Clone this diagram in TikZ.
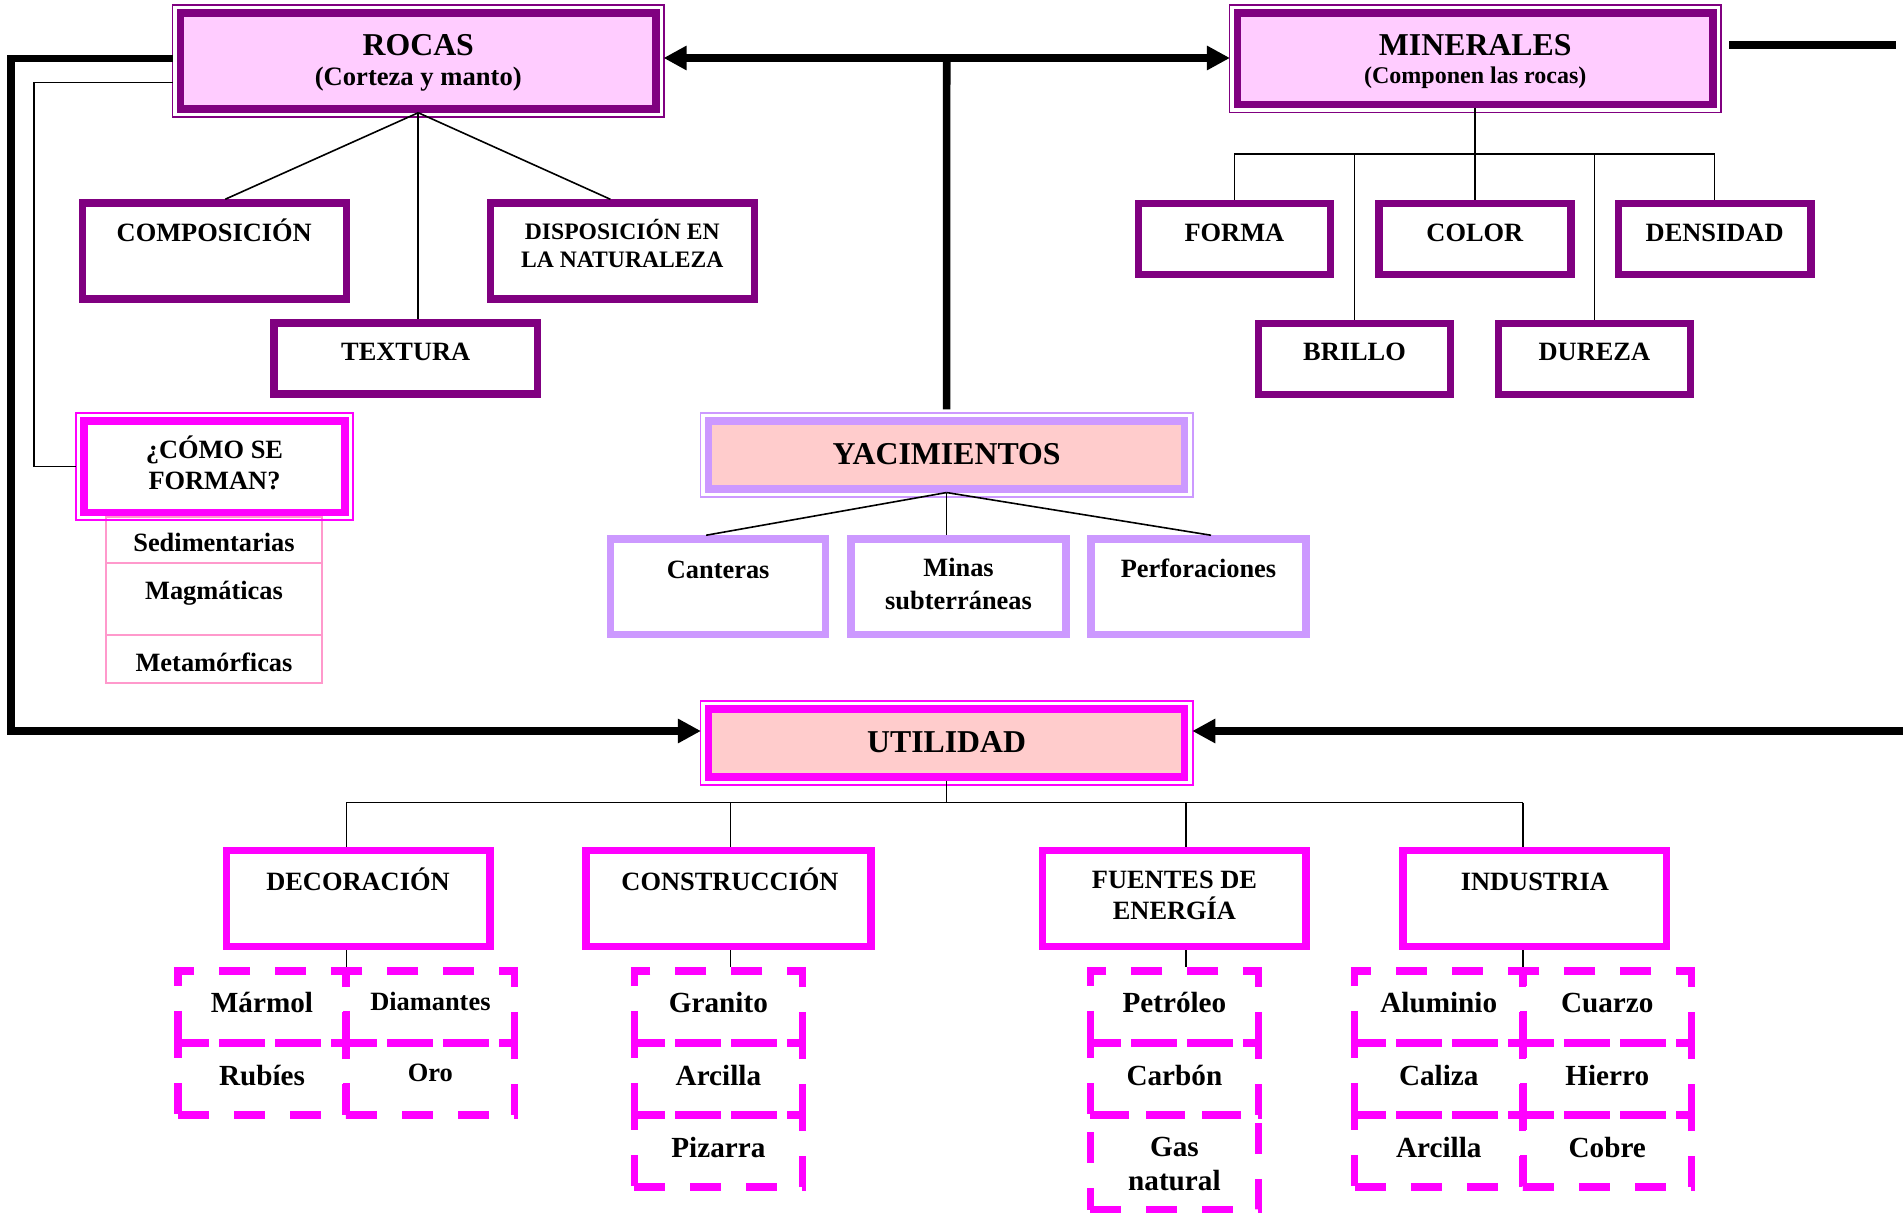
\documentclass[tikz,border=0pt]{standalone}
\usepackage{fontspec}
\setmainfont{Liberation Serif}
\usetikzlibrary{arrows.meta}

\definecolor{morado}{HTML}{800080}
\definecolor{rosa}{HTML}{FFCCFF}
\definecolor{fucsia}{HTML}{FF00FF}
\definecolor{lila}{HTML}{CC99FF}
\definecolor{salmonclaro}{HTML}{FFCCCC}
\definecolor{rosado}{HTML}{FF99CC}

\begin{document}
\begin{tikzpicture}[x=0.5pt,y=0.5pt,yscale=-1,
  >={Triangle[length=11.5pt,width=11.5pt]},
  caja/.style={rectangle,draw,line width=3.75pt,inner sep=0pt,fill=white},
  celda/.style={rectangle,draw=fucsia,line width=3.6pt,dash pattern=on 15.5pt off 12.5pt,minimum width=84pt,minimum height=36pt,inner sep=0pt},
  tabla/.style={rectangle,draw=rosado,line width=1pt,minimum width=108.3pt,inner sep=0pt},
  gruesa/.style={line width=3.8pt},
  fina/.style={line width=0.8pt},
  marco/.style={line width=0.8pt},
  titulo/.style={anchor=base,inner sep=0pt,font=\bfseries\fontsize{15.9}{19}\selectfont},
  subtitulo/.style={anchor=base,inner sep=0pt,font=\bfseries\fontsize{13.3}{16}\selectfont},
  etiqueta/.style={anchor=base,inner sep=0pt,align=center,font=\bfseries\fontsize{13.2}{15.5}\selectfont},
  elemento/.style={anchor=base,inner sep=0pt,align=center,font=\bfseries\fontsize{14.6}{17}\selectfont}
]
\path[use as bounding box,fill=white] (0,0) rectangle (1903,1213);

%Shape: Rectangle ROCAS
\draw[marco,morado] (172.5,5) rectangle (664,117);
\node[caja,draw=morado,fill=rosa,minimum width=237.75pt,minimum height=48pt] (rocas) at (418.25,61) {};
%Shape: Rectangle MINERALES
\draw[marco,morado] (1229.5,5) rectangle (1721,112.7);
\node[caja,draw=morado,fill=rosa,minimum width=237.75pt,minimum height=45.85pt] (minerales) at (1475.25,58.85) {};

%Shape: Rectangle
\node[caja,draw=morado,minimum width=132pt,minimum height=48pt] (compo) at (214.25,251) {};
\node[caja,draw=morado,minimum width=132pt,minimum height=48pt] (dispo) at (622.3,251) {};
\node[caja,draw=morado,minimum width=131.75pt,minimum height=35.5pt] (textura) at (405.75,358.5) {};

%Shape: Rectangle
\node[caja,draw=morado,minimum width=96.1pt,minimum height=35.5pt] (forma) at (1234.4,238.8) {};
\node[caja,draw=morado,minimum width=96.1pt,minimum height=35.5pt] (color) at (1474.85,238.8) {};
\node[caja,draw=morado,minimum width=96.1pt,minimum height=35.5pt] (densidad) at (1714.65,238.8) {};
\node[caja,draw=morado,minimum width=96.1pt,minimum height=35.5pt] (brillo) at (1354.5,358.8) {};
\node[caja,draw=morado,minimum width=96.1pt,minimum height=35.5pt] (dureza) at (1594.4,358.8) {};

%Shape: Table
\node[tabla,minimum height=22.85pt] (sedi) at (214,539.85) {};
\node[tabla,minimum height=36.15pt] (magma) at (214,598.85) {};
\node[tabla,minimum height=24.15pt] (meta) at (214,659.15) {};

%Shape: Rectangle COMO
\draw[marco,fucsia] (76,413) rectangle (352.9,520.3);
\node[caja,draw=fucsia,minimum width=130.45pt,minimum height=45.65pt] (como) at (214.5,466.7) {};

%Shape: Rectangle YACIMIENTOS
\draw[marco,lila] (700.5,413.2) rectangle (1192.7,496.8);
\node[caja,draw=lila,fill=salmonclaro,minimum width=238.1pt,minimum height=33.8pt] (yac) at (946.6,455) {};
\node[caja,draw=lila,minimum width=107.45pt,minimum height=47.65pt] (canteras) at (718.15,586.65) {};
\node[caja,draw=lila,minimum width=107.45pt,minimum height=47.65pt] (minas) at (958.55,586.65) {};
\node[caja,draw=lila,minimum width=107.45pt,minimum height=47.65pt] (perf) at (1198.5,586.65) {};

%Shape: Rectangle UTILIDAD
\draw[marco,fucsia] (700.5,700.9) rectangle (1192.7,784.9);
\node[caja,draw=fucsia,fill=salmonclaro,minimum width=238.1pt,minimum height=34pt] (util) at (946.6,742.9) {};
\node[caja,draw=fucsia,minimum width=131.75pt,minimum height=48pt] (deco) at (358,898.7) {};
\node[caja,draw=fucsia,minimum width=142.5pt,minimum height=48pt] (constr) at (728.5,898.7) {};
\node[caja,draw=fucsia,minimum width=131.75pt,minimum height=48pt] (fuentes) at (1174.45,898.7) {};
\node[caja,draw=fucsia,minimum width=131.75pt,minimum height=48pt] (industria) at (1534.9,898.7) {};

%Shape: Dashed cells
\node[celda] (marmol) at (262,1007) {};
\node[celda] (diamantes) at (430.4,1007) {};
\node[celda] (rubies) at (262,1079) {};
\node[celda] (oro) at (430.4,1079) {};
\node[celda] (granito) at (718.4,1007) {};
\node[celda] (arcillac) at (718.4,1079) {};
\node[celda] (pizarra) at (718.4,1151) {};
\node[celda] (petroleo) at (1174.4,1007) {};
\node[celda] (carbon) at (1174.4,1079) {};
\node[celda,minimum height=47.35pt] (gas) at (1174.4,1162.35) {};
\node[celda] (aluminio) at (1438.75,1007) {};
\node[celda] (cuarzo) at (1607.25,1007) {};
\node[celda] (caliza) at (1438.75,1079) {};
\node[celda] (hierro) at (1607.25,1079) {};
\node[celda] (arcillai) at (1438.75,1151) {};
\node[celda] (cobre) at (1607.25,1151) {};

\coordinate (cruce) at (946.7,58);
\coordinate (izq-arriba) at (10.9,58.7);
\coordinate (izq-abajo) at (10.9,731);
\coordinate (der-arriba) at (1906.5,60);
\coordinate (der-abajo) at (1906.5,731);
\coordinate (tope-a) at (1729,45.3);
\coordinate (tope-b) at (1896,45.3);
\coordinate (fa) at (34,82.7);
\coordinate (fb) at (34,466.7);
\coordinate (mbar) at (1475.25,154);
\coordinate (ubar) at (946.6,802.7);
\coordinate (d-deco) at (346.4,802.7);
\coordinate (d-constr) at (730.4,802.7);
\coordinate (d-fuentes) at (1186.25,802.7);
\coordinate (d-ind) at (1522.9,802.7);

%Straight Lines
\draw[gruesa,->,shorten <=1.9pt,shorten >=1.9pt] (rocas.west |- izq-arriba) -- (izq-arriba) -- (izq-abajo) -- (util.west |- izq-abajo);
\draw[gruesa,<->,shorten <=1.9pt,shorten >=1.9pt] (rocas.east |- cruce) -- (minerales.west |- cruce);
\draw[gruesa,shorten >=4pt] (cruce) -- (yac.north);
\draw[gruesa,->,shorten >=1.9pt] (der-arriba) -- (der-abajo) -- (util.east |- der-abajo);
\draw[gruesa] (tope-a) -- (tope-b);
\draw[fina,shorten <=1.9pt,shorten >=2pt] (rocas.west |- fa) -- (fa) -- (fb) -- (como.west |- fb);

%Straight Lines
\draw[fina] (rocas.south) -- ([xshift=5.5pt]compo.north);
\draw[fina] (rocas.south) -- ([xshift=-6pt]dispo.north);
\draw[fina] (rocas.south) -- (rocas.south |- textura.north);

\draw[fina] (minerales.south) -- (mbar);
\draw[fina] (forma.north |- mbar) -- (densidad.north |- mbar);
\foreach \m in {forma,brillo,color,dureza,densidad}
  \draw[fina] (\m.north |- mbar) -- (\m.north);

\draw[fina] (yac.south) -- ([xshift=-6pt]canteras.north);
\draw[fina] (yac.south) -- (yac.south |- minas.north);
\draw[fina] (yac.south) -- ([xshift=6.25pt]perf.north);

\draw[fina] (util.south) -- (ubar);
\draw[fina] (d-deco) -- (d-ind);
\foreach \pto/\bx/\cel in {d-deco/deco/marmol,d-constr/constr/granito,d-fuentes/fuentes/petroleo,d-ind/industria/aluminio}{
  \draw[fina] (\pto) -- (\pto |- \bx.north);
  \draw[fina] (\bx.south -| \pto) -- (\cel.north -| \pto);
}

% Text Node
\node[titulo] (t-rocas) at (418.25,56) {ROCAS};
\node[subtitulo] (t-corteza) at (418.25,86) {(Corteza y manto)};
\node[titulo] (t-minerales) at (1475.25,56) {MINERALES};
\node[subtitulo,font=\bfseries\fontsize{12}{14}\selectfont] (t-componen) at (1475.25,84) {(Componen las rocas)};
\node[titulo] (t-yac) at (946.6,465) {YACIMIENTOS};
\node[titulo] (t-util) at (946.6,752.7) {UTILIDAD};

% Text Node
\node[etiqueta] (t-compo) at (214.25,241.5) {COMPOSICIÓN};
\node[etiqueta,font=\bfseries\fontsize{11.8}{14}\selectfont] (t-dispo) at (622.3,267.3) {DISPOSICIÓN EN\\LA NATURALEZA};
\node[etiqueta] (t-textura) at (405.75,361) {TEXTURA};
\node[etiqueta] (t-forma) at (1234.4,241.7) {FORMA};
\node[etiqueta] (t-color) at (1474.85,241.7) {COLOR};
\node[etiqueta] (t-densidad) at (1714.65,241.7) {DENSIDAD};
\node[etiqueta] (t-brillo) at (1354.5,361) {BRILLO};
\node[etiqueta] (t-dureza) at (1594.4,361) {DUREZA};
\node[etiqueta] (t-como) at (214.5,490) {¿CÓMO SE\\FORMAN?};
\node[etiqueta] (t-sedi) at (214,551.7) {Sedimentarias};
\node[etiqueta] (t-magma) at (214,600) {Magmáticas};
\node[etiqueta] (t-meta) at (214,671.7) {Metamórficas};
\node[etiqueta] (t-canteras) at (718.15,578.3) {Canteras};
\node[etiqueta,font=\bfseries\fontsize{13.2}{16.5}\selectfont] (t-minas) at (958.55,610) {Minas\\subterráneas};
\node[etiqueta] (t-perf) at (1198.5,578) {Perforaciones};
\node[etiqueta] (t-deco) at (358,890.7) {DECORACIÓN};
\node[etiqueta] (t-constr) at (730,890.7) {CONSTRUCCIÓN};
\node[etiqueta] (t-fuentes) at (1174.45,920) {FUENTES DE\\ENERGÍA};
\node[etiqueta] (t-industria) at (1534.9,890.7) {INDUSTRIA};

% Text Node
\node[elemento] (t-marmol) at (262,1013) {Mármol};
\node[etiqueta] (t-diamantes) at (430.4,1010.7) {Diamantes};
\node[elemento] (t-rubies) at (262,1085) {Rubíes};
\node[etiqueta] (t-oro) at (430.4,1081.7) {Oro};
\node[elemento] (t-granito) at (718.4,1013) {Granito};
\node[elemento] (t-arcillac) at (718.4,1085) {Arcilla};
\node[elemento] (t-pizarra) at (718.4,1157) {Pizarra};
\node[elemento] (t-petroleo) at (1174.4,1013) {Petróleo};
\node[elemento] (t-carbon) at (1174.4,1085) {Carbón};
\node[elemento] (t-gas) at (1174.4,1190.7) {Gas\\natural};
\node[elemento] (t-aluminio) at (1438.75,1013) {Aluminio};
\node[elemento] (t-cuarzo) at (1607.25,1013) {Cuarzo};
\node[elemento] (t-caliza) at (1438.75,1085) {Caliza};
\node[elemento] (t-hierro) at (1607.25,1085) {Hierro};
\node[elemento] (t-arcillai) at (1438.75,1157) {Arcilla};
\node[elemento] (t-cobre) at (1607.25,1157) {Cobre};

\end{tikzpicture}
\end{document}
